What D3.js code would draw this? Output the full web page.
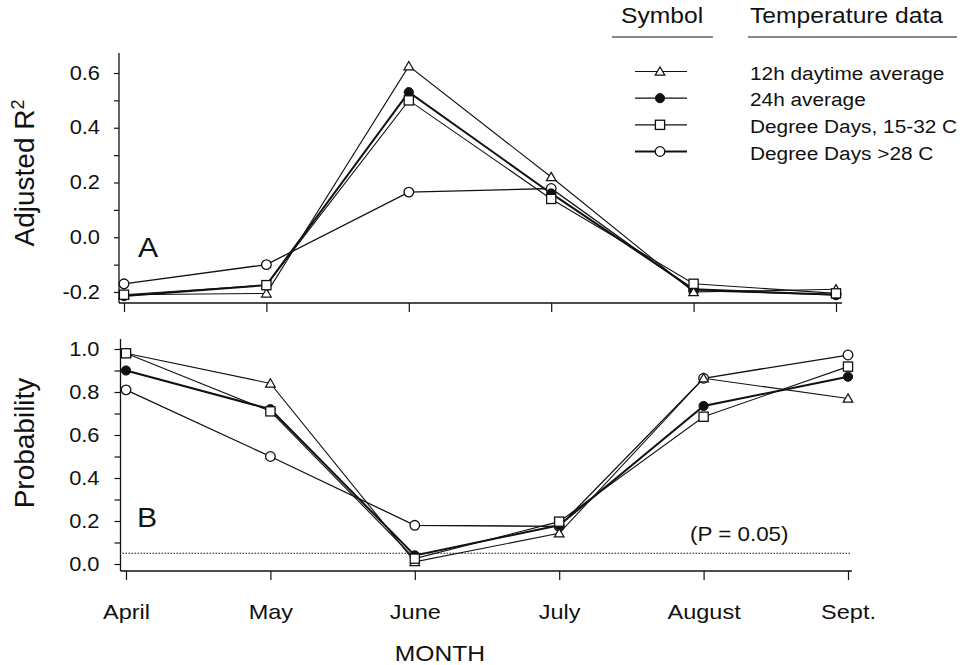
<!DOCTYPE html>
<html>
<head>
<meta charset="utf-8">
<script src="https://cdn.jsdelivr.net/npm/d3@7"></script>
<style>
  html, body { margin: 0; padding: 0; background: #fff; }
  svg { display: block; font-family: "Liberation Sans", Arial, sans-serif; fill: #111; }
  text { fill: #111; }
</style>
</head>
<body>
<svg id="chart" width="970" height="665"></svg>
<script>
// Months on the shared x axis
const months = ["April", "May", "June", "July", "August", "Sept."];

// Panel A: adjusted R² per month
const r2Day12 = [-0.21, -0.205, 0.625, 0.22, -0.20, -0.19];
const r2Avg24 = [-0.215, -0.175, 0.53, 0.16, -0.19, -0.21];
const r2DD1532 = [-0.21, -0.175, 0.50, 0.14, -0.17, -0.205];
const r2DD28 = [-0.17, -0.10, 0.165, 0.178, -0.195, -0.21];

// Panel B: probability per month
const pDay12 = [0.98, 0.84, 0.01, 0.143, 0.864, 0.77];
const pAvg24 = [0.90, 0.72, 0.04, 0.18, 0.735, 0.871];
const pDD1532 = [0.98, 0.71, 0.025, 0.197, 0.685, 0.918];
const pDD28 = [0.81, 0.50, 0.18, 0.175, 0.864, 0.972];

// Significance threshold
const pThreshold = 0.05;

// Tick values and labels
const r2Ticks = [-0.2, -0.1, 0.0, 0.1, 0.2, 0.3, 0.4, 0.5, 0.6];
const r2TickLabels = ["-0.2", "", "0.0", "", "0.2", "", "0.4", "", "0.6"];
const pTicks = [0.0, 0.1, 0.2, 0.3, 0.4, 0.5, 0.6, 0.7, 0.8, 0.9, 1.0];
const pTickLabels = ["0.0", "", "0.2", "", "0.4", "", "0.6", "", "0.8", "", "1.0"];

// Legend entries
const seriesNames = ["12h daytime average", "24h average", "Degree Days, 15-32 C", "Degree Days >28 C"];
const seriesSymbols = ["triangle", "filled", "square", "circle"];

const SX = 1.12;           // slightly wide lettering
const INK = "#111";
const svg = d3.select("#chart");

function label(g, x, y, s, size, anchor) {
  return g.append("text")
    .attr("transform", `translate(${x},${y}) scale(${SX},1)`)
    .attr("text-anchor", anchor || "start")
    .style("font-size", size + "px")
    .text(s);
}

function drawMarker(g, kind, x, y) {
  if (kind === "triangle") {
    const s = 4.6;
    g.append("path")
      .attr("d", `M${x},${y - s}L${x + s * 1.05},${y + s * 0.8}L${x - s * 1.05},${y + s * 0.8}Z`)
      .attr("fill", "#fff").attr("stroke", INK).attr("stroke-width", 1.2);
  } else if (kind === "square") {
    const s = 4.6;
    g.append("rect").attr("x", x - s).attr("y", y - s).attr("width", 2 * s).attr("height", 2 * s)
      .attr("fill", "#fff").attr("stroke", INK).attr("stroke-width", 1.3);
  } else if (kind === "filled") {
    g.append("circle").attr("cx", x).attr("cy", y).attr("r", 4.6)
      .attr("fill", INK).attr("stroke", INK).attr("stroke-width", 1);
  } else {
    g.append("circle").attr("cx", x).attr("cy", y).attr("r", 4.8)
      .attr("fill", "#fff").attr("stroke", INK).attr("stroke-width", 1.3);
  }
}

const lineWidth = { triangle: 1.1, filled: 2.0, square: 1.1, circle: 1.3 };
const drawOrder = ["circle", "filled", "triangle", "square"];

function drawPanel(cfg) {
  const g = svg.append("g");
  const x = d3.scalePoint().domain(months).range(cfg.xRange);
  const y = d3.scaleLinear().domain(cfg.yDomain).range(cfg.yRange);

  // axis lines
  g.append("line").attr("x1", cfg.axisX).attr("x2", cfg.axisX)
    .attr("y1", cfg.axisTop).attr("y2", cfg.axisY)
    .attr("stroke", INK).attr("stroke-width", 1.3);
  g.append("line").attr("x1", cfg.axisX).attr("x2", cfg.axisRight)
    .attr("y1", cfg.axisY).attr("y2", cfg.axisY)
    .attr("stroke", INK).attr("stroke-width", 1.3);

  // y axis
  const yAxis = d3.axisLeft(y).tickValues(cfg.ticks).tickSize(cfg.tickLen).tickSizeOuter(0)
    .tickFormat((d, i) => cfg.tickLabels[i]);
  const ya = g.append("g").attr("transform", `translate(${cfg.axisX},0)`).call(yAxis);
  ya.select(".domain").remove();
  ya.selectAll(".tick line").attr("stroke", INK).attr("stroke-width", 1.2);
  ya.selectAll(".tick text")
    .attr("x", -cfg.labelGap / SX)
    .attr("transform", `scale(${SX},1)`)
    .style("font-size", "19.5px").style("font-family", "Liberation Sans, Arial, sans-serif")
    .attr("fill", INK);

  // x axis ticks (labels only on the lower panel)
  const xAxis = d3.axisBottom(x).tickSize(9).tickSizeOuter(0).tickFormat(cfg.showMonths ? (d => d) : "");
  const xa = g.append("g").attr("transform", `translate(0,${cfg.axisY})`).call(xAxis);
  xa.select(".domain").remove();
  xa.selectAll(".tick line").attr("stroke", INK).attr("stroke-width", 1.2);
  xa.selectAll(".tick text")
    .attr("y", 33).attr("dy", "0.71em").attr("x", 0)
    .attr("transform", `scale(${SX},1)`)
    .style("font-size", "21px").style("font-family", "Liberation Sans, Arial, sans-serif")
    .attr("fill", INK);

  // threshold line
  if (cfg.threshold != null) {
    g.append("line").attr("x1", cfg.axisX + 2).attr("x2", cfg.axisRight - 2)
      .attr("y1", y(cfg.threshold)).attr("y2", y(cfg.threshold))
      .attr("stroke", INK).attr("stroke-width", 1).attr("stroke-dasharray", "1.5,1.5");
  }

  // series lines
  const line = d3.line().x((d, i) => x(months[i])).y(d => y(d));
  drawOrder.forEach(kind => {
    g.append("path").datum(cfg.series[kind]).attr("d", line)
      .attr("fill", "none").attr("stroke", INK).attr("stroke-width", lineWidth[kind]);
  });
  drawOrder.forEach(kind => {
    cfg.series[kind].forEach((v, i) => drawMarker(g, kind, x(months[i]), y(v)));
  });

  // panel letter
  label(g, cfg.letterX, cfg.letterY, cfg.letter, 27, "start");

  // y axis title
  const t = g.append("text")
    .attr("transform", `translate(${cfg.titleX},${cfg.titleY}) rotate(-90)`)
    .attr("text-anchor", "middle")
    .style("font-size", "28px");
  t.append("tspan").text(cfg.title);
  if (cfg.titleSup) {
    t.append("tspan").attr("dy", "-0.55em").style("font-size", "18px").text(cfg.titleSup);
  }
  return { g, x, y };
}

// Panel A
const panelA = drawPanel({
  xRange: [124, 836],
  yDomain: [-0.2, 0.6], yRange: [292, 73],
  axisX: 119, axisTop: 53, axisY: 303, axisRight: 842,
  ticks: r2Ticks, tickLabels: r2TickLabels, tickLen: 5, labelGap: 19,
  showMonths: false,
  series: { triangle: r2Day12, filled: r2Avg24, square: r2DD1532, circle: r2DD28 },
  letter: "A", letterX: 138, letterY: 257,
  title: "Adjusted R", titleSup: "2", titleX: 34, titleY: 173
});

// Panel B
const panelB = drawPanel({
  xRange: [126, 848],
  yDomain: [0, 1], yRange: [564, 349],
  axisX: 120.5, axisTop: 339, axisY: 571, axisRight: 852,
  ticks: pTicks, tickLabels: pTickLabels, tickLen: 6, labelGap: 21,
  showMonths: true,
  threshold: pThreshold,
  series: { triangle: pDay12, filled: pAvg24, square: pDD1532, circle: pDD28 },
  letter: "B", letterX: 137, letterY: 527,
  title: "Probability", titleX: 34, titleY: 443
});

label(panelB.g, 690, 541, `(P = ${pThreshold.toFixed(2)})`, 20, "start");

// x axis title
label(svg, 440, 661, "MONTH", 22, "middle");

// Legend
const lg = svg.append("g");
label(lg, 621, 23, "Symbol", 22, "start");
label(lg, 750, 23, "Temperature data", 22, "start");
lg.append("line").attr("x1", 612).attr("x2", 713).attr("y1", 37).attr("y2", 37).attr("stroke", INK).attr("stroke-width", 1.2);
lg.append("line").attr("x1", 748).attr("x2", 957).attr("y1", 37).attr("y2", 37).attr("stroke", INK).attr("stroke-width", 1.2);
const rowY = d3.scalePoint().domain(seriesNames).range([71.5, 151.5]);
seriesNames.forEach((name, i) => {
  const yy = rowY(name);
  const kind = seriesSymbols[i];
  lg.append("line").attr("x1", 635).attr("x2", 687).attr("y1", yy).attr("y2", yy)
    .attr("stroke", INK).attr("stroke-width", kind === "circle" ? 2 : 1.2);
  drawMarker(lg, kind, 660, yy);
  label(lg, 750, yy + 8, name, 18.6, "start");
});
</script>
</body>
</html>
